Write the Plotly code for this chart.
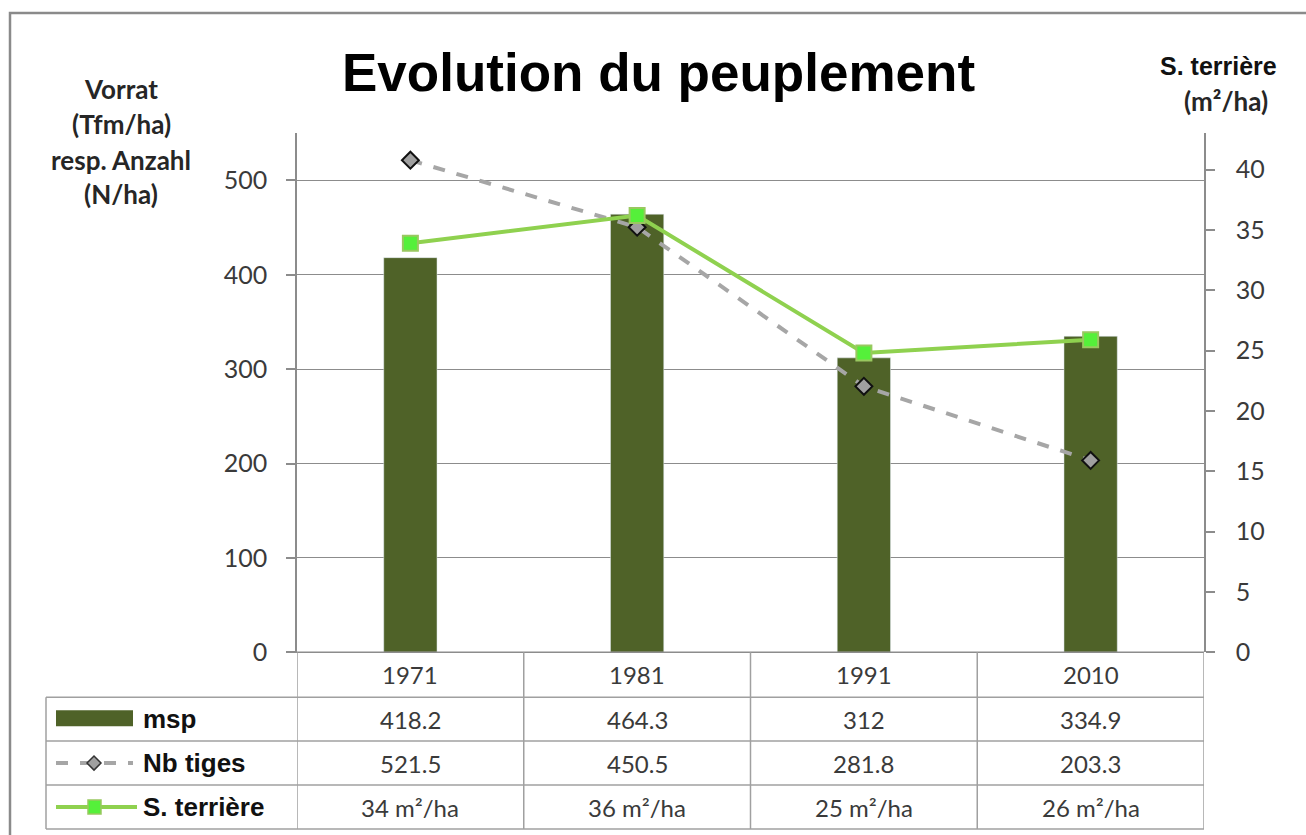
import plotly.graph_objects as go

# data
years = ["1971", "1981", "1991", "2010"]
msp = [418.2, 464.3, 312.0, 334.9]
nb_tiges = [521.5, 450.5, 281.8, 203.3]
s_terriere = [33.9, 36.2, 24.8, 25.9]
s_terriere_labels = ["34 m²/ha", "36 m²/ha", "25 m²/ha", "26 m²/ha"]

W, H = 1306, 835
FIG_H = 848  # the capture comes out slightly squeezed vertically


def px(x):
    return x / W


def py(y):
    return 1 - y / H


GRID = "#8c8c8c"
TXT = "#3a3a3a"
BODY = "Lato"
ARIAL = "Liberation Sans"

fig = go.Figure()

fig.add_trace(go.Bar(x=years, y=msp, name="msp", marker_color="#4f6228",
                     width=0.235, yaxis="y"))
fig.add_trace(go.Scatter(x=years, y=nb_tiges, name="Nb tiges", mode="lines+markers",
                         line=dict(color="#a6a6a6", width=4, dash="dash"),
                         marker=dict(symbol="diamond", size=13, color="#a0a0a0",
                                     line=dict(color="#111111", width=2)),
                         yaxis="y"))
fig.add_trace(go.Scatter(x=years, y=s_terriere, name="S. terrière", mode="lines+markers",
                         line=dict(color="#8fd14f", width=4),
                         marker=dict(symbol="square", size=15, color="#55f03a",
                                     line=dict(color="#99c860", width=2)),
                         yaxis="y2"))

fig.update_layout(
    width=W, height=FIG_H, autosize=False,
    margin=dict(l=0, r=0, t=0, b=0),
    paper_bgcolor="white", plot_bgcolor="white",
    showlegend=False,
    font=dict(family=BODY, color=TXT),
    xaxis=dict(domain=[px(297), px(1204)], type="category", range=[-0.5, 3.5],
               showticklabels=False, ticks="", showgrid=False, zeroline=False,
               showline=False),
    yaxis=dict(domain=[py(653), py(133)], range=[0, 550.5], dtick=100,
               showgrid=True, gridcolor=GRID, gridwidth=1,
               zeroline=False, showline=True, linecolor=GRID, linewidth=1.5,
               ticks="outside", ticklen=9, tickcolor=GRID, tickwidth=1.5,
               ticklabelstandoff=14,
               tickfont=dict(family=BODY, size=25, color=TXT)),
    yaxis2=dict(overlaying="y", side="right", anchor="x", range=[0, 43.05], dtick=5,
                showgrid=False, zeroline=False, showline=True, linecolor=GRID,
                linewidth=1.5, ticks="outside", ticklen=9, tickcolor=GRID,
                tickwidth=1.5, ticklabelstandoff=16,
                tickfont=dict(family=BODY, size=25, color=TXT)),
)

shapes = []
ann = []


def text(x, y, s, size, family=BODY, color=TXT, xref="paper", xanchor="center",
         bold=False):
    ann.append(dict(x=x, y=py(y), xref=xref, yref="paper", text=s,
                    xanchor=xanchor, yanchor="middle", showarrow=False,
                    font=dict(family=family, size=size, color=color,
                              weight="bold" if bold else "normal")))


# outer chart frame
shapes.append(dict(type="rect", xref="paper", yref="paper",
                   x0=px(10), x1=px(1340), y0=py(880), y1=py(13),
                   line=dict(color="#8a8a8a", width=2.5)))
# zero line under the bars (axis line)
shapes.append(dict(type="line", xref="paper", yref="paper",
                   x0=px(288), x1=px(1204), y0=py(653), y1=py(653),
                   line=dict(color=GRID, width=1.5)))

# data table
for yy in [698, 742, 786, 830]:
    shapes.append(dict(type="line", xref="paper", yref="paper",
                       x0=px(46), x1=px(1204), y0=py(yy), y1=py(yy),
                       line=dict(color="#a0a0a0", width=1.5)))
shapes.append(dict(type="line", xref="paper", yref="paper",
                   x0=px(46), x1=px(46), y0=py(698), y1=py(830),
                   line=dict(color="#a0a0a0", width=1.5)))
for i in range(len(years) + 1):
    shapes.append(dict(type="line", xref="x", yref="paper",
                       x0=i - 0.5, x1=i - 0.5, y0=py(653), y1=py(830),
                       line=dict(color="#a0a0a0", width=1.5)))

row_y = [675, 720, 764, 808]
for i, yr in enumerate(years):
    text(i, row_y[0], yr, 24, xref="x")
    text(i, row_y[1], f"{msp[i]:g}", 24, xref="x")
    text(i, row_y[2], f"{nb_tiges[i]:g}", 24, xref="x")
    text(i, row_y[3], s_terriere_labels[i], 24, xref="x")

# legend keys inside the table
shapes.append(dict(type="rect", xref="paper", yref="paper",
                   x0=px(56), x1=px(133), y0=py(727), y1=py(711),
                   fillcolor="#4f6228", line=dict(width=0)))
shapes.append(dict(type="line", xref="paper", yref="paper",
                   x0=px(56), x1=px(133), y0=py(764), y1=py(764),
                   line=dict(color="#a6a6a6", width=4, dash="dash")))
cx, cy = 94, 764
shapes.append(dict(type="path", xref="paper", yref="paper",
                   path=f"M {px(cx-7)} {py(cy)} L {px(cx)} {py(cy-7)} "
                        f"L {px(cx+7)} {py(cy)} L {px(cx)} {py(cy+7)} Z",
                   fillcolor="#a0a0a0", line=dict(color="#333333", width=1.5)))
shapes.append(dict(type="line", xref="paper", yref="paper",
                   x0=px(56), x1=px(137), y0=py(808), y1=py(808),
                   line=dict(color="#8fd14f", width=4)))
shapes.append(dict(type="rect", xref="paper", yref="paper",
                   x0=px(88), x1=px(101), y0=py(815), y1=py(801),
                   fillcolor="#55f03a", line=dict(color="#99c860", width=1.5)))

for label, yy in zip(["msp", "Nb tiges", "S. terrière"], row_y[1:]):
    text(px(141), yy, label, 26, family=ARIAL, color="#111111", xanchor="left",
         bold=True)

# title and axis titles
text(px(658), 73, "Evolution du peuplement", 53, family=ARIAL, color="black", bold=True)
for s, yy in zip(["Vorrat", "(Tfm/ha)", "resp. Anzahl", "(N/ha)"], [89, 124, 160, 194]):
    text(px(121), yy, s, 26, color="#262626", bold=True)
text(px(1218), 66, "S. terrière", 25, family=ARIAL, color="#111111", bold=True)
text(px(1226), 101, "(m²/ha)", 26, color="#262626", bold=True)

fig.update_layout(shapes=shapes, annotations=ann)

# drop the default body margin so the figure fills the window exactly
fig.write_html("out.html", config={"displayModeBar": False},
               post_script="document.body.style.margin='0';"
                           "document.body.style.overflow='hidden';")
